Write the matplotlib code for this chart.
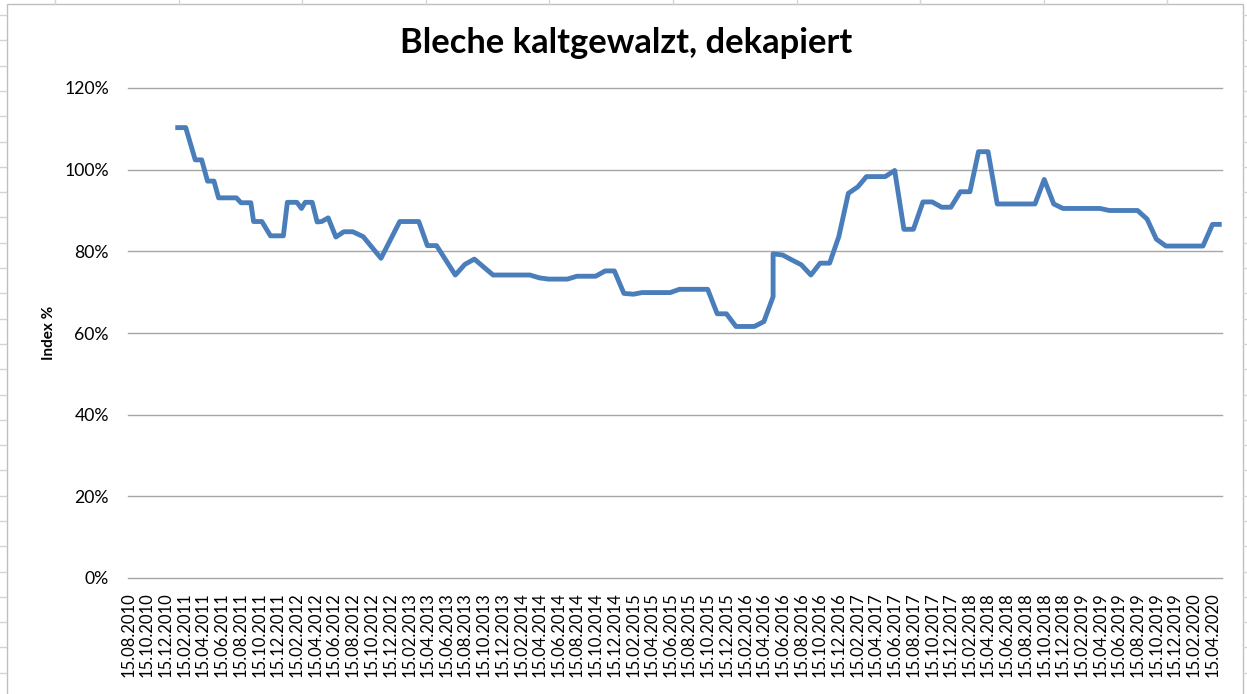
"""
Bleche kaltgewalzt, dekapiert - index chart (Excel-style line chart).
"""
import matplotlib
matplotlib.use("Agg")
import matplotlib.pyplot as plt
import matplotlib.dates as mdates
from matplotlib.lines import Line2D
from matplotlib.patches import Rectangle
from matplotlib.ticker import PercentFormatter
import pandas as pd

# ---------------------------------------------------------------------------
# Data (index in %)
# ---------------------------------------------------------------------------
dates = [
    "2011-01-15", "2011-02-18", "2011-03-21", "2011-04-11", "2011-04-30",
    "2011-05-21", "2011-06-05", "2011-08-02", "2011-08-17", "2011-09-18",
    "2011-09-27", "2011-10-24", "2011-11-21", "2012-01-02", "2012-01-15",
    "2012-02-15", "2012-03-01", "2012-03-13", "2012-04-05", "2012-04-21",
    "2012-05-06", "2012-05-27", "2012-06-21", "2012-07-17", "2012-08-15",
    "2012-09-18", "2012-11-15", "2013-01-15", "2013-03-18", "2013-04-15",
    "2013-05-15", "2013-07-15", "2013-08-15", "2013-09-15", "2013-11-15",
    "2013-12-15", "2014-01-15", "2014-02-15", "2014-03-15", "2014-04-15",
    "2014-05-15", "2014-06-15", "2014-07-15", "2014-08-15", "2014-09-15",
    "2014-10-15", "2014-11-15", "2014-12-15", "2015-01-15", "2015-02-15",
    "2015-03-15", "2015-04-15", "2015-05-15", "2015-06-15", "2015-07-15",
    "2015-08-15", "2015-09-15", "2015-10-15", "2015-11-15", "2015-12-15",
    "2016-01-15", "2016-02-15", "2016-03-15", "2016-04-15", "2016-05-15",
    "2016-05-15", "2016-06-15", "2016-07-15", "2016-08-15", "2016-09-15",
    "2016-10-15", "2016-11-15", "2016-12-15", "2017-01-15", "2017-02-15",
    "2017-03-15", "2017-04-15", "2017-05-15", "2017-06-15", "2017-07-15",
    "2017-08-15", "2017-09-15", "2017-10-15", "2017-11-15", "2017-12-15",
    "2018-01-15", "2018-02-15", "2018-03-15", "2018-04-15", "2018-05-15",
    "2018-06-15", "2018-07-15", "2018-08-15", "2018-09-15", "2018-10-15",
    "2018-11-15", "2018-12-15", "2019-01-15", "2019-02-15", "2019-03-15",
    "2019-04-15", "2019-05-15", "2019-06-15", "2019-07-15", "2019-08-15",
    "2019-09-15", "2019-10-15", "2019-11-15", "2019-12-15", "2020-01-15",
    "2020-02-15", "2020-03-15", "2020-04-15", "2020-05-15",
]
index_pct = [
    110.3, 110.3, 102.4, 102.4, 97.2,
    97.2, 93.1, 93.1, 91.9, 91.9,
    87.3, 87.3, 83.8, 83.8, 92.0,
    92.0, 90.5, 92.0, 92.0, 87.2,
    87.3, 88.2, 83.5, 84.8, 84.8,
    83.6, 78.3, 87.3, 87.3, 81.4,
    81.4, 74.2, 76.8, 78.1, 74.2,
    74.2, 74.2, 74.2, 74.2, 73.5,
    73.2, 73.2, 73.2, 73.9, 73.9,
    73.9, 75.2, 75.2, 69.7, 69.5,
    69.9, 69.9, 69.9, 69.9, 70.7,
    70.7, 70.7, 70.7, 64.7, 64.7,
    61.6, 61.6, 61.6, 62.8, 68.9,
    79.4, 79.1, 77.9, 76.7, 74.2,
    77.1, 77.1, 83.6, 94.2, 95.8,
    98.3, 98.3, 98.3, 99.8, 85.4,
    85.4, 92.1, 92.1, 90.8, 90.8,
    94.6, 94.6, 104.4, 104.4, 91.6,
    91.6, 91.6, 91.6, 91.6, 97.6,
    91.6, 90.5, 90.5, 90.5, 90.5,
    90.5, 90.0, 90.0, 90.0, 90.0,
    87.9, 83.0, 81.3, 81.3, 81.3,
    81.3, 81.3, 86.6, 86.6,
]

TITLE = "Bleche kaltgewalzt, dekapiert"
Y_LABEL = "Index %"
X_START = "2010-08-15"
X_END = "2020-05-15"
TICK_LAST = "2020-04-15"
Y_TICKS = [0, 20, 40, 60, 80, 100, 120]

LINE_COLOR = "#4a7ebb"
GRID_COLOR = "#a6a6a6"
FONT = ["Lato", "DejaVu Sans"]

W, H = 1247, 694

# ---------------------------------------------------------------------------
# Figure
# ---------------------------------------------------------------------------
plt.rcParams["font.family"] = FONT
fig = plt.figure(figsize=(W / 100, H / 100), dpi=100)
fig.patch.set_facecolor("white")

# Excel sheet grid peeking out around the chart object
grid_kw = dict(color="#d4d4d4", lw=1.0, transform=fig.transFigure)
x = 55
while x < W:
    fig.add_artist(Line2D([x / W, x / W], [1, 1 - 4 / H], **grid_kw))
    x += 123.6
y = 15
while y < H:
    fig.add_artist(Line2D([0, 6 / W], [1 - y / H, 1 - y / H], **grid_kw))
    fig.add_artist(Line2D([1243 / W, 1], [1 - y / H, 1 - y / H], **grid_kw))
    y += 25.3

# chart area border
fig.add_artist(Rectangle((6.5 / W, -0.02), (1236 / W), 1 - 3.5 / H + 0.02,
                         transform=fig.transFigure, fill=False,
                         edgecolor="#bfbfbf", lw=1.0))

left, right = 128.3, 1221.7
top, bottom = 88, 578
ax = fig.add_axes([left / W, 1 - bottom / H, (right - left) / W, (bottom - top) / H])

x_dates = pd.to_datetime(dates)
ax.plot(x_dates, index_pct, color=LINE_COLOR, lw=3.5,
        solid_joinstyle="round", solid_capstyle="butt", zorder=3)

ax.set_xlim(pd.Timestamp(X_START), pd.Timestamp(X_END))
ax.set_ylim(Y_TICKS[0], Y_TICKS[-1])

tick_dates = pd.date_range(X_START, TICK_LAST, freq=pd.DateOffset(months=2))
ax.set_xticks(tick_dates)
ax.xaxis.set_major_formatter(mdates.DateFormatter("%d.%m.%Y"))
ax.set_yticks(Y_TICKS)
ax.yaxis.set_major_formatter(PercentFormatter(decimals=0))

ax.tick_params(axis="x", length=0, pad=10, labelsize=12, labelrotation=90)
ax.tick_params(axis="y", length=0, pad=14, labelsize=12.7)
for lbl in ax.get_xticklabels():
    lbl.set_va("top")

ax.yaxis.grid(True, color=GRID_COLOR, lw=1.0, zorder=0)
for gl in ax.get_ygridlines():
    gl.set_clip_on(False)
ax.xaxis.grid(False)
for s in ax.spines.values():
    s.set_visible(False)
ax.set_facecolor("none")

ax.set_ylabel(Y_LABEL, fontsize=11, fontweight="bold", labelpad=6)
fig.text(626 / W, 1 - 43 / H, TITLE, ha="center", va="center",
         fontsize=24.8, fontweight="bold")

fig.savefig("out.png", dpi=100)
